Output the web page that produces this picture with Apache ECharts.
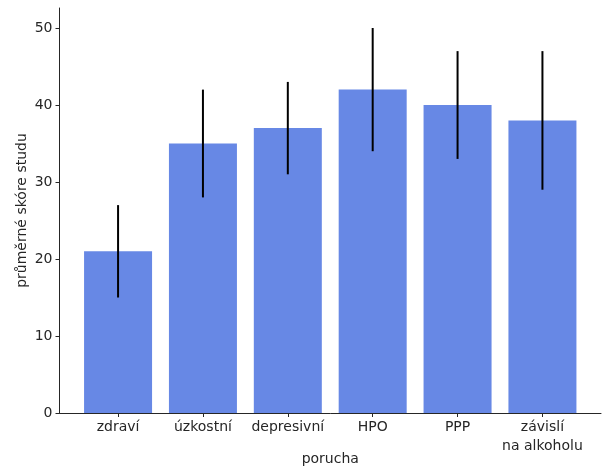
<!DOCTYPE html>
<html><head><meta charset="utf-8">
<script src="https://cdn.jsdelivr.net/npm/echarts@6/dist/echarts.min.js"></script>
<style>html,body{margin:0;padding:0;background:#fff}#c{width:602px;height:470px}</style>
</head><body><div id="c"></div>
<script>
const categories = ['zdraví', 'úzkostní', 'depresivní', 'HPO', 'PPP', 'závislí\nna alkoholu'];
const means = [21, 35, 37, 42, 40, 38];
const errLow = [15, 28, 31, 34, 33, 29];
const errHigh = [27, 42, 43, 50, 47, 47];
const yTicks = [0, 10, 20, 30, 40, 50];

const idx = categories.map((_, i) => i);
const font = 'DejaVu Sans';
const fs = 14;
const chart = echarts.init(document.getElementById('c'), null, {renderer: 'canvas'});
chart.setOption({
  animation: false,
  backgroundColor: '#fff',
  grid: {left: 59.5, right: 1, top: 8, bottom: 57, containLabel: false, outerBoundsMode: 'none'},
  xAxis: {
    type: 'value', min: -0.69, max: 5.69,
    name: 'porucha', nameLocation: 'middle', nameGap: 39, nameMoveOverlap: false,
    nameTextStyle: {fontFamily: font, fontSize: fs, color: '#262626', verticalAlign: 'top'},
    splitLine: {show: false},
    axisLine: {show: true, onZero: false, lineStyle: {color: '#262626', width: 1}},
    axisTick: {show: true, customValues: idx, length: 4, lineStyle: {color: '#262626'}},
    axisLabel: {customValues: idx, fontFamily: font, fontSize: fs, color: '#262626', margin: 5, lineHeight: 19,
      formatter: v => categories[Math.round(v)]}
  },
  yAxis: {
    type: 'value', min: 0, max: 52.6,
    name: 'průměrné skóre studu', nameLocation: 'middle', nameGap: 30, nameMoveOverlap: false,
    nameTextStyle: {fontFamily: font, fontSize: fs, color: '#262626'},
    splitLine: {show: false},
    axisLine: {show: true, onZero: false, lineStyle: {color: '#262626', width: 1}},
    axisTick: {show: true, customValues: yTicks, length: 4, lineStyle: {color: '#262626'}},
    axisLabel: {customValues: yTicks, fontFamily: font, fontSize: fs, color: '#262626', margin: 7}
  },
  series: [
    {
      type: 'bar', barWidth: 68,
      data: means.map((v, i) => [i, v]),
      itemStyle: {color: '#6788e5'}
    },
    {
      type: 'custom',
      data: idx.map(i => [i, errLow[i], errHigh[i]]),
      renderItem: (params, api) => {
        const p1 = api.coord([api.value(0), api.value(1)]);
        const p2 = api.coord([api.value(0), api.value(2)]);
        return {type: 'line', shape: {x1: p1[0], y1: p1[1], x2: p2[0], y2: p2[1]},
          style: {stroke: '#000', lineWidth: 2}};
      },
      z: 5
    }
  ]
});
</script></body></html>
